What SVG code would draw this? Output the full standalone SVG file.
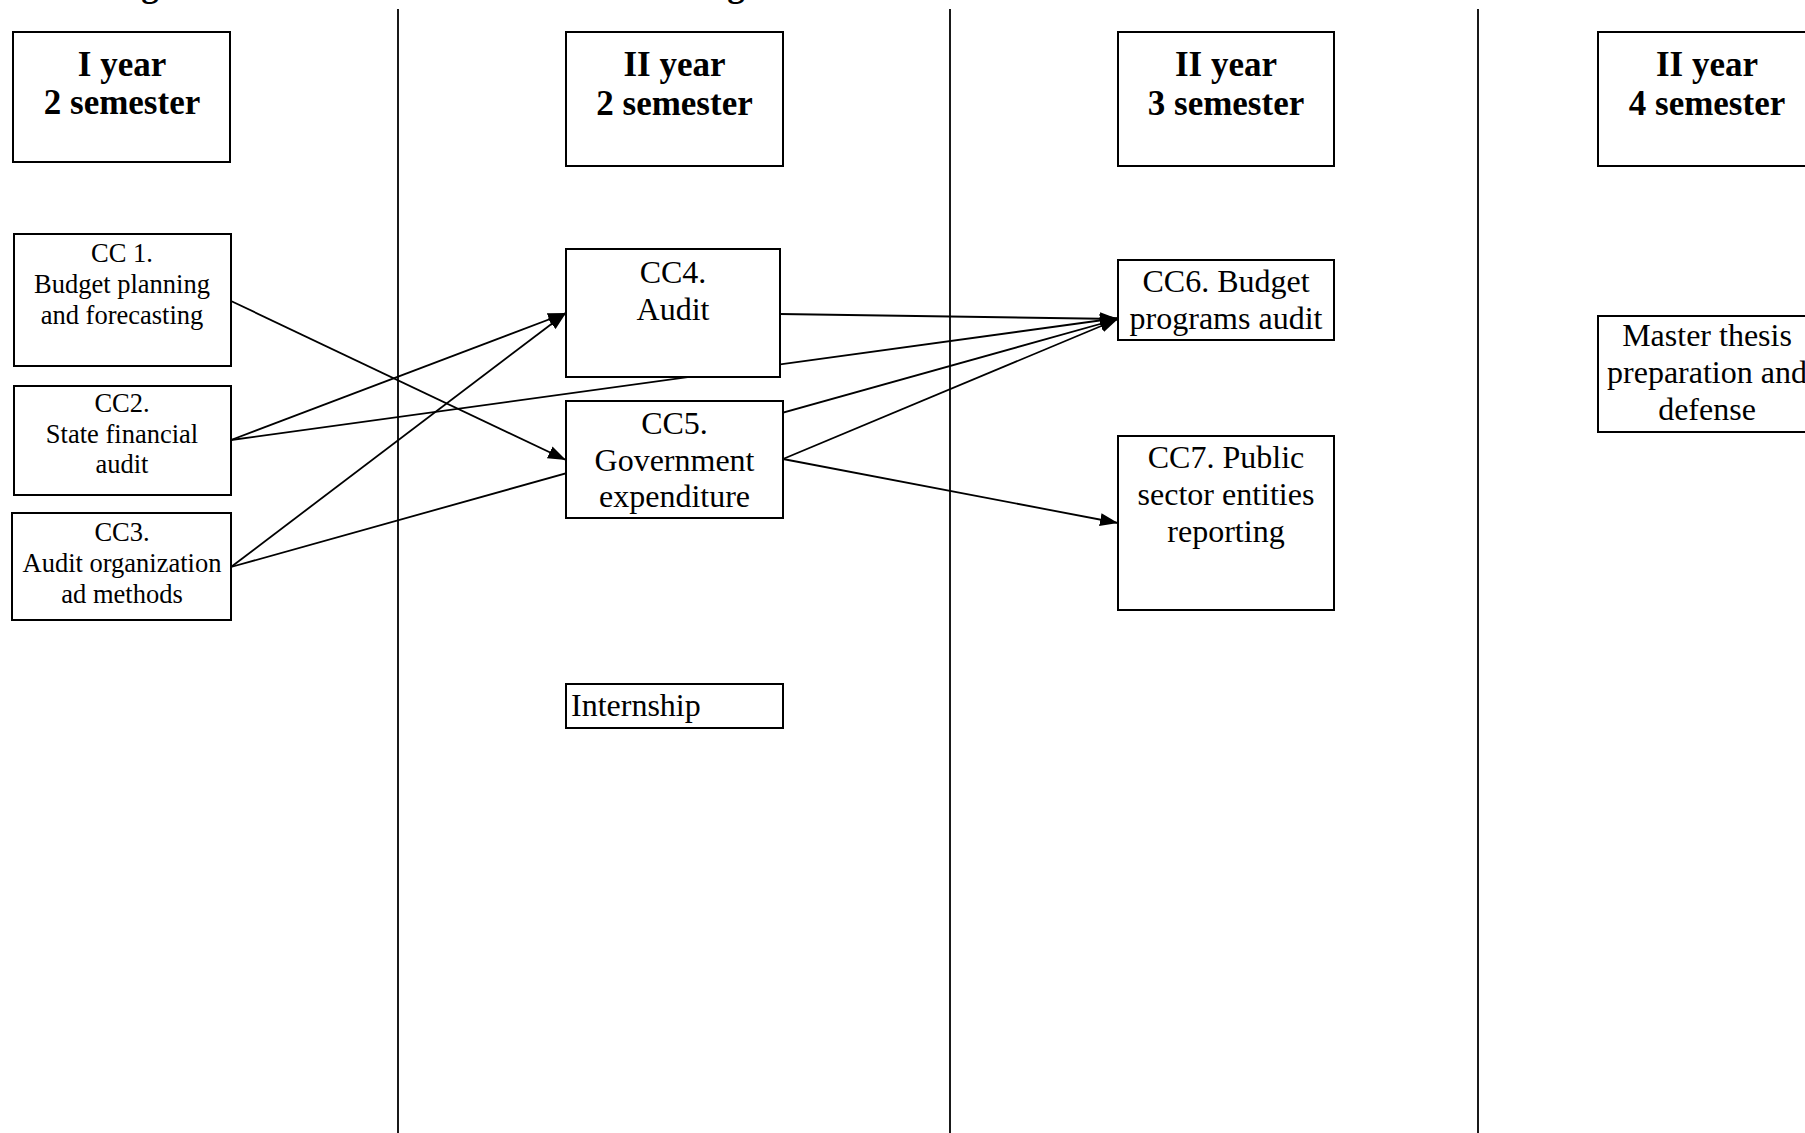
<svg xmlns="http://www.w3.org/2000/svg" width="1805" height="1133" viewBox="0 0 1805 1133">
<defs>
<style>
.bx{fill:#fff;stroke:#000;stroke-width:2}
.hd{font-family:"Liberation Serif","Times New Roman",serif;font-weight:bold;font-size:35px;text-anchor:middle;fill:#000}
.sm{font-family:"Liberation Serif","Times New Roman",serif;font-size:26.5px;text-anchor:middle;fill:#000}
.lg{font-family:"Liberation Serif","Times New Roman",serif;font-size:32px;text-anchor:middle;fill:#000}
.lgs{font-family:"Liberation Serif","Times New Roman",serif;font-size:32px;text-anchor:start;fill:#000}
.ln{stroke:#000;stroke-width:1.8;fill:none}
.cn{stroke:#000;stroke-width:1.8;fill:none;marker-end:url(#ah)}
</style>
<marker id="ah" markerUnits="userSpaceOnUse" markerWidth="19" markerHeight="14" refX="18" refY="7" orient="auto">
<path d="M0,0.5 L18,7 L0,13.5 z" fill="#000"/>
</marker>
</defs>
<rect width="1805" height="1133" fill="#fff"/>
<g id="topfrag">
<text class="hd" x="150" y="-4">g</text>
<text class="hd" x="736" y="-4">g</text>
</g>
<g id="dividers">
<line class="ln" x1="398" y1="9" x2="398" y2="1133"/>
<line class="ln" x1="950" y1="9" x2="950" y2="1133"/>
<line class="ln" x1="1478" y1="9" x2="1478" y2="1133"/>
</g>
<g id="connectors">
<line class="cn" x1="231" y1="301" x2="566" y2="460"/>
<line class="cn" x1="231" y1="440" x2="566" y2="313"/>
<line class="cn" x1="231" y1="440" x2="1118" y2="318"/>
<line class="cn" x1="231" y1="567" x2="566" y2="313"/>
<line class="cn" x1="231" y1="567" x2="1118" y2="319"/>
<line class="cn" x1="780" y1="314" x2="1118" y2="319"/>
<line class="cn" x1="783" y1="459" x2="1118" y2="319"/>
<line class="cn" x1="783" y1="459" x2="1118" y2="523"/>
</g>
<g id="h1"><rect class="bx" x="13" y="32" width="217" height="130"/><text class="hd" x="122" y="76">I year</text><text class="hd" x="122" y="114">2 semester</text></g>
<g id="h2"><rect class="bx" x="566" y="32" width="217" height="134"/><text class="hd" x="674.5" y="76">II year</text><text class="hd" x="674.5" y="115">2 semester</text></g>
<g id="h3"><rect class="bx" x="1118" y="32" width="216" height="134"/><text class="hd" x="1226" y="76">II year</text><text class="hd" x="1226" y="115">3 semester</text></g>
<g id="h4"><rect class="bx" x="1598" y="32" width="230" height="134"/><text class="hd" x="1707" y="76">II year</text><text class="hd" x="1707" y="115">4 semester</text></g>
<g id="cc1"><rect class="bx" x="14" y="234" width="217" height="132"/><text class="sm" x="122" y="262">CC 1.</text><text class="sm" x="122" y="293">Budget planning</text><text class="sm" x="122" y="324">and forecasting</text></g>
<g id="cc2"><rect class="bx" x="14" y="386" width="217" height="109"/><text class="sm" x="122" y="412">CC2.</text><text class="sm" x="122" y="443">State financial</text><text class="sm" x="122" y="473">audit</text></g>
<g id="cc3"><rect class="bx" x="12" y="513" width="219" height="107"/><text class="sm" x="122" y="541">CC3.</text><text class="sm" x="122" y="572">Audit organization</text><text class="sm" x="122" y="603">ad methods</text></g>
<g id="cc4"><rect class="bx" x="566" y="249" width="214" height="128"/><text class="lg" x="673" y="283">CC4.</text><text class="lg" x="673" y="320">Audit</text></g>
<g id="cc5"><rect class="bx" x="566" y="401" width="217" height="117"/><text class="lg" x="674.5" y="434">CC5.</text><text class="lg" x="674.5" y="471">Government</text><text class="lg" x="674.5" y="507">expenditure</text></g>
<g id="cc6"><rect class="bx" x="1118" y="260" width="216" height="80"/><text class="lg" x="1226" y="292">CC6. Budget</text><text class="lg" x="1226" y="329">programs audit</text></g>
<g id="cc7"><rect class="bx" x="1118" y="436" width="216" height="174"/><text class="lg" x="1226" y="468">CC7. Public</text><text class="lg" x="1226" y="505">sector entities</text><text class="lg" x="1226" y="542">reporting</text></g>
<g id="master"><rect class="bx" x="1598" y="316" width="230" height="116"/><text class="lg" x="1707" y="346">Master thesis</text><text class="lg" x="1707" y="383">preparation and</text><text class="lg" x="1707" y="420">defense</text></g>
<g id="internship"><rect class="bx" x="566" y="684" width="217" height="44"/><text class="lgs" x="571" y="716">Internship</text></g>
</svg>
